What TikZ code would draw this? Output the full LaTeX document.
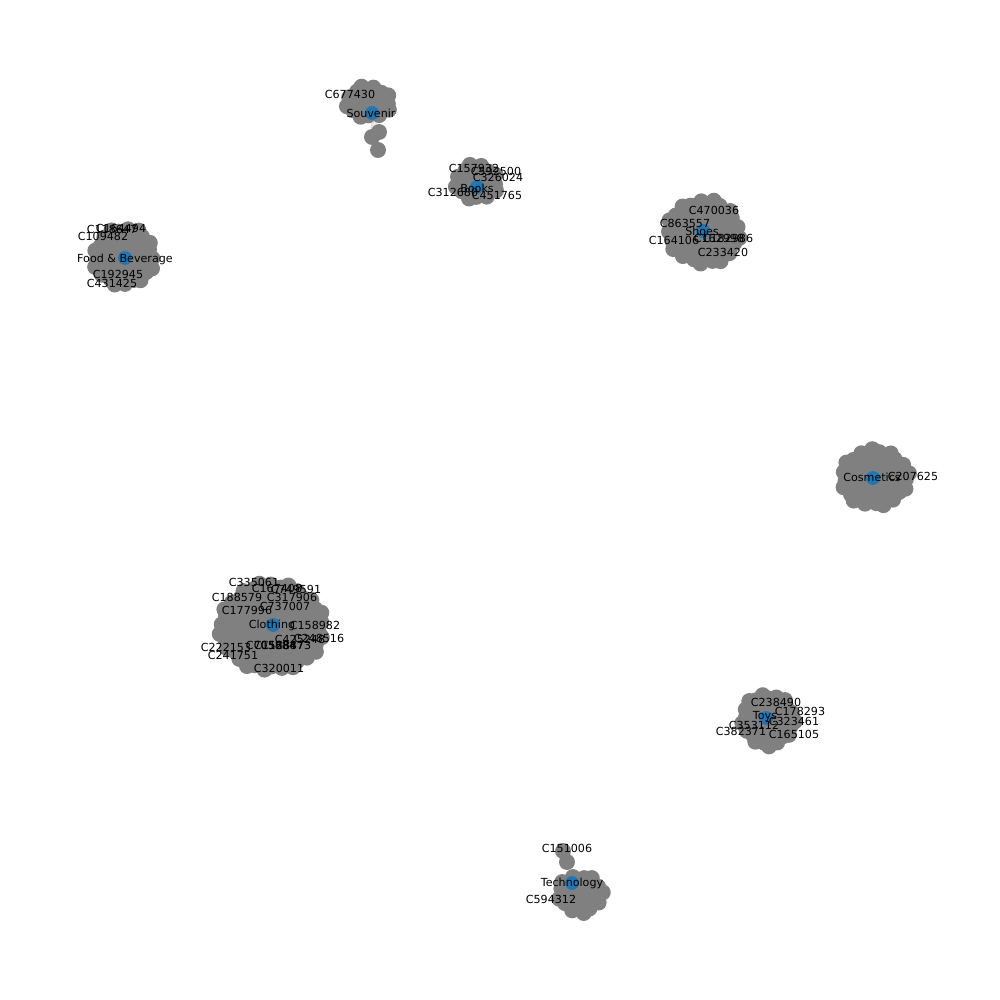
\documentclass[tikz,border=0pt]{standalone}
\usepackage{fontspec}
\setmainfont{DejaVu Sans}
\usepackage{xcolor}
\usepackage{tikz}
\usetikzlibrary{backgrounds}

\definecolor{leafgray}{HTML}{808080}
\definecolor{hubblue}{HTML}{1F77B4}
\definecolor{linkgray}{HTML}{E0E0E0}

\begin{document}
\begin{tikzpicture}[
  x=0.72pt, y=-0.72pt,
  leaf/.style={circle, fill=leafgray, inner sep=0pt, minimum size=11.5pt},
  hub/.style={circle, fill=hubblue, inner sep=0pt, minimum size=10pt},
  link/.style={draw=linkgray, line width=0.8pt},
  tag/.style={font=\fontsize{8pt}{9pt}\selectfont, inner sep=0pt}
]
\begin{scope}[on background layer]
  \fill[white] (0,0) rectangle (1000,1000);
\end{scope}
\useasboundingbox (0,0) rectangle (1000,1000);

% leaves of each category
\foreach \g/\cx/\cy/\rx/\ry/\num in {sou/369/102/23/17/30, boo/477/182/22/19/30,
    sho/704/232/37/33/80, fab/124/257/31/30/65, cos/875/478/35/29/70,
    clo/272/627/53/45/140, toy/768/720/27/27/55, tec/580/894/23/20/34}{
  \foreach \i in {1,...,\num}{
    \pgfmathsetmacro{\rr}{sqrt((\i-0.5)/\num)}
    \pgfmathsetmacro{\aa}{mod(\i*13.7508,36)*10}
    \node[leaf] (\g-\i) at ({\cx+\rx*\rr*cos(\aa)},{\cy+\ry*\rr*sin(\aa)}) {};
  }
}
\node[leaf] (sou-a) at (379,132) {};
\node[leaf] (sou-b) at (372,137) {};
\node[leaf] (sou-c) at (378,150) {};
\node[leaf] (tec-a) at (563,851) {};
\node[leaf] (tec-b) at (567,862) {};

% category hubs
\node[hub] (sou) at (372,113) {};
\node[hub] (boo) at (477,187) {};
\node[hub] (sho) at (703,231) {};
\node[hub] (fab) at (125,258) {};
\node[hub] (cos) at (873,478) {};
\node[hub] (clo) at (273,625) {};
\node[hub] (toy) at (766,718) {};
\node[hub] (tec) at (572,883) {};

% links
\begin{scope}[on background layer]
  \foreach \g/\num in {sou/30, boo/30, sho/80, fab/65, cos/70, clo/140, toy/55, tec/34}
    \foreach \i in {1,...,\num} \draw[link] (\g) -- (\g-\i);
  \foreach \t in {a,b,c} \draw[link] (sou) -- (sou-\t);
  \foreach \t in {a,b} \draw[link] (tec) -- (tec-\t);
\end{scope}

% labels
\foreach \x/\y/\t in {371/113/Souvenir, 477/188/Books, 702/231/Shoes,
    125/259/Food \& Beverage, 872/477/Cosmetics, 272/625/Clothing,
    765/717/Toys, 572/883/Technology}
  \node[tag] at (\x,\y) {\t};
\foreach \x/\y/\t in {350/94/C677430,
    474/168/C157932, 496/171/C592500, 498/177/C326024, 453/192/C312680, 497/195/C451765,
    714/210/C470036, 685/223/C863557, 674/240/C164106, 719/238/C162998, 728/238/C182986, 723/252/C233420,
    112/229/C118647, 121/228/C164494, 103/236/C109482, 118/274/C192945, 112/283/C431425,
    913/476/C207625,
    254/582/C335061, 277/588/C167408, 296/589/C749591, 237/597/C188579, 292/597/C317906,
    247/610/C177996, 285/606/C737007, 315/625/C158982, 300/639/C425248, 319/638/C248516,
    226/647/C222153, 271/645/C705884, 279/645/C152887, 286/645/C168473, 233/655/C241751,
    279/668/C320011,
    776/702/C238490, 800/711/C178293, 794/721/C323461, 754/725/C353112, 741/731/C382371,
    794/734/C165105,
    567/848/C151006, 551/899/C594312}
  \node[tag] (\t) at (\x,\y) {\t};
\end{tikzpicture}
\end{document}
